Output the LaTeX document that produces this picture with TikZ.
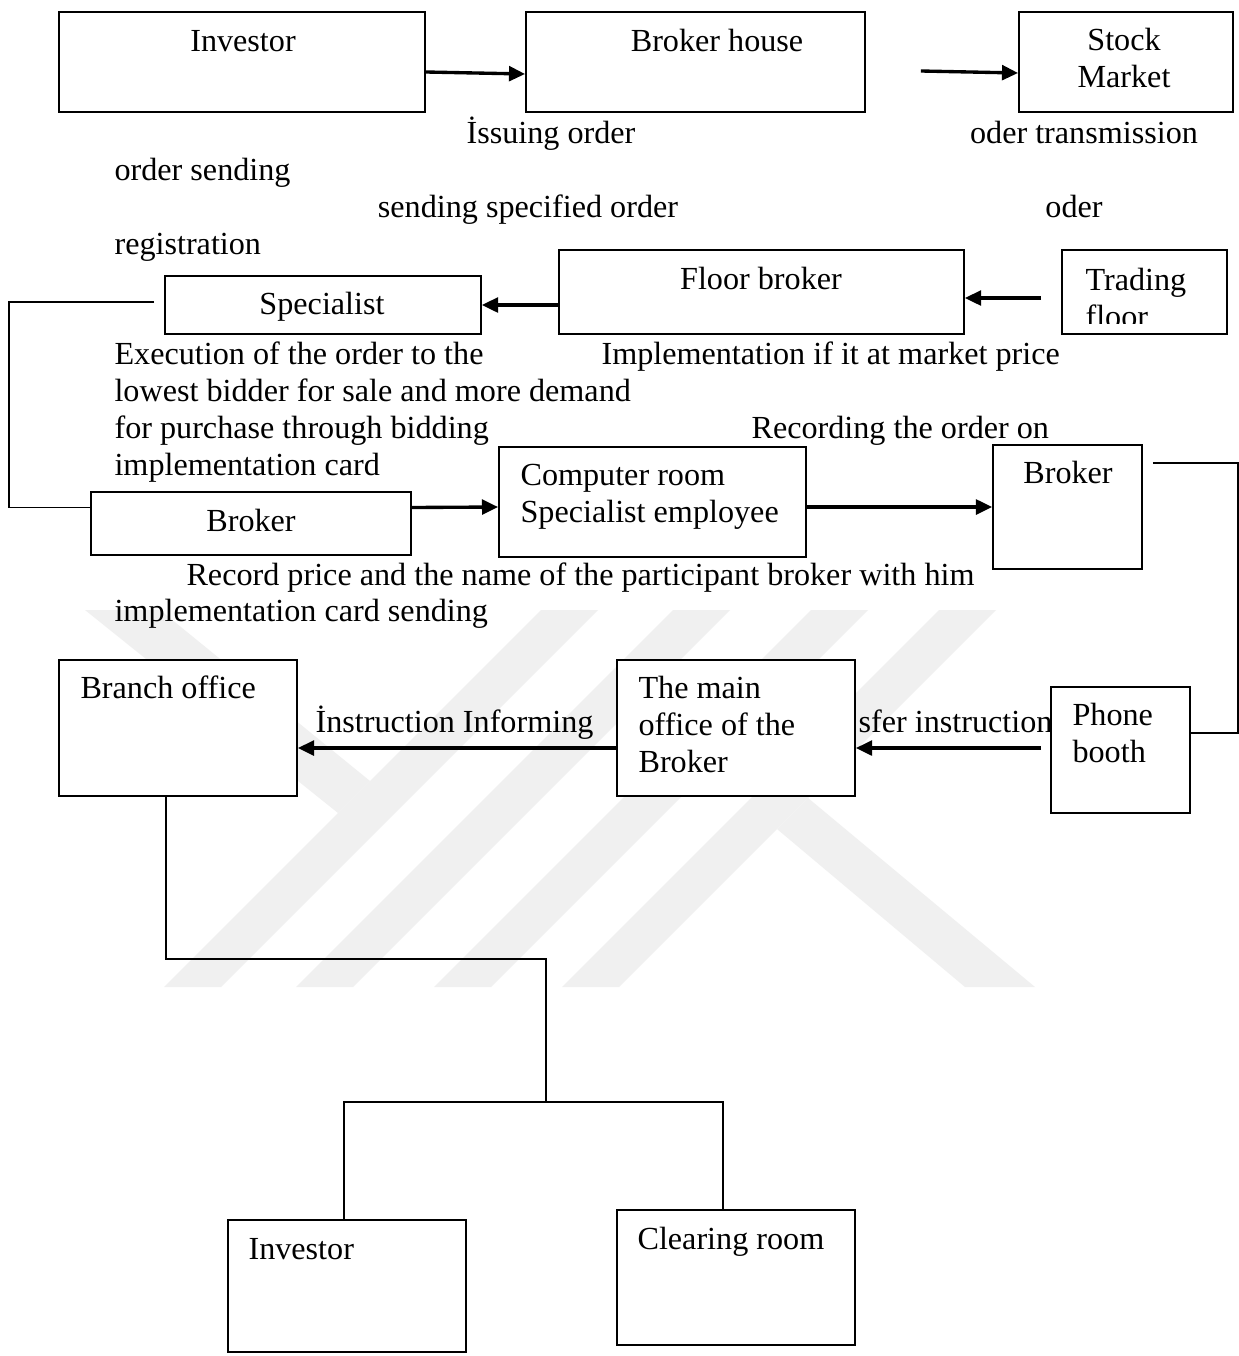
\documentclass[tikz,border=0pt]{standalone}
\usepackage{fontspec}
\setmainfont{Liberation Serif}
\usetikzlibrary{arrows.meta,calc,fit}
\begin{document}
\begin{tikzpicture}[x=0.373pt,y=-0.373pt,
  box/.style={draw, line width=0.7pt, inner sep=0pt, fill=white},
  lbl/.style={inner sep=0pt, text height=8.5pt, text depth=2.5pt, font=\fontsize{12}{13.8}\selectfont},
  lft/.style={lbl, anchor=west},
  arr/.style={line width=1.25pt, -{Triangle[length=6pt,width=5.5pt]}},
  wire/.style={line width=0.7pt},
  wm/.style={fill=black!6, draw=none}]
\useasboundingbox (0,0) rectangle (1239,1356);
\fill[white] (0,0) rectangle (1239,1356);

% watermark
\fill[wm] (164,987) -- (221,987) -- (598,610) -- (541,610) -- cycle;
\fill[wm] (296,987) -- (353,987) -- (730,610) -- (673,610) -- cycle;
\fill[wm] (434,987) -- (491,987) -- (868,610) -- (811,610) -- cycle;
\fill[wm] (562,987) -- (619,987) -- (996,610) -- (939,610) -- cycle;
\fill[wm] (85,610) -- (160,610) -- (370,781) -- (338,813) -- cycle;
\fill[wm] (777,829) -- (965,987) -- (1035,987) -- (808,798) -- cycle;

% row 1
\node[box, fit={(59,12) (425,112)}] (inv) {};
\node[box, fit={(526,12) (865,112)}] (bh) {};
\node[box, fit={(1019,12) (1233,112)}] (sm) {};
\node[lbl] (tinv) at (243,43) {Investor};
\node[lbl] (tbh) at (717,43) {Broker house};
\node[lbl] (tsm1) at (1124,42) {Stock};
\node[lbl] (tsm2) at (1124,79) {Market};
\draw[arr] ($(inv.east)+(0,10)$) -- ($(bh.west)+(0,12)$);
\draw[arr] ($(bh.east)+(55,9)$) -- ($(sm.west)+(0,11)$);

\node[lbl] (t1) at (551,135) {İssuing order};
\node[lbl] (t2) at (1084,135) {oder transmission};
\node[lft] (t3) at (114,172) {order sending};
\node[lbl] (t4) at (528,209) {sending specified order};
\node[lbl] (t5) at (1074,209) {oder};
\node[lft] (t6) at (114,246) {registration};

% row 2
\node[box, fit={(165,276) (481,334)}] (spec) {};
\node[box, fit={(559,250) (964,334)}] (fb) {};
\node[box, fit={(1062,250) (1227,334)}] (tf) {};
\node[lbl] (tspec) at (322,306) {Specialist};
\node[lbl] (tfb) at (761,281) {Floor broker};
\begin{scope}
\clip (tf.north west) rectangle ($(tf.south east)+(0,-11)$);
\node[lft] (ttf1) at (1085,282) {Trading};
\node[lft] (ttf2) at (1085,319) {floor};
\end{scope}
\draw[arr] (fb.west |- spec.east) -- (spec.east);
\draw[arr] ($(tf.west)+(-20,6)$) -- ($(fb.east)+(0,6)$);

\node[lft] (t7) at (114,356) {Execution of the order to the};
\node[lft] (t8) at (601,356) {Implementation if it at market price};
\node[lft] (t9) at (114,393) {lowest bidder for sale and more demand};
\node[lft] (t10) at (114,430) {for purchase through bidding};
\node[lft] (t11) at (751,430) {Recording the order on};
\node[lft] (t12) at (114,467) {implementation card};

% row 3
\node[box, fit={(91,492) (411,555)}] (brk1) {};
\node[box, fit={(499,447) (806,557)}] (comp) {};
\node[box, fit={(993,445) (1142,569)}] (brk2) {};
\node[lbl] (tbrk1) at (251,523) {Broker};
\node[lft] (tcomp1) at (520,477) {Computer room};
\node[lft] (tcomp2) at (520,514) {Specialist employee};
\node[lbl] (tbrk2) at (1068,475) {Broker};
\draw[wire] ($(spec.west)+(-10,-3)$) -- ++(-145,0) |- ($(brk1.west)+(0,-16)$);
\draw[arr] ($(brk1.east)+(0,-16)$) -- ($(comp.west)+(0,5)$);
\draw[arr] ($(comp.east)+(0,5)$) -- (brk2.west);

\node[lft] (t13) at (186,577) {Record price and the name of the participant broker with him};
\node[lft] (t14) at (114,613) {implementation card sending};

% row 4
\node[box, fit={(59,660) (297,796)}] (branch) {};
\node[box, fit={(617,660) (855,796)}] (mainoff) {};
\node[box, fit={(1051,687) (1190,813)}] (phone) {};
\node[lft] (tbranch) at (80,690) {Branch office};
\node[lft] (tmain1) at (638,690) {The main};
\node[lft] (tmain2) at (638,727) {office of the};
\node[lft] (tmain3) at (638,764) {Broker};
\node[lft] (tph1) at (1072,717) {Phone};
\node[lft] (tph2) at (1072,754) {booth};
\node[lft] (t15) at (315,724) {İnstruction Informing};
\node[lft] (t16) at (858,724) {sfer instruction};
\draw[wire] ($(brk2.east)+(10,-44)$) -- ++(85,0) |- ($(phone.east)+(0,-17)$);
\draw[arr] ($(mainoff.west)+(0,20)$) -- ($(branch.east)+(0,20)$);
\draw[arr] ($(phone.west)+(-9,-2)$) -- ($(mainoff.east)+(0,20)$);

% bottom tree
\node[box, fit={(228,1220) (466,1352)}] (inv2) {};
\node[box, fit={(617,1210) (855,1345)}] (clear) {};
\node[lft] (tinv2) at (248,1251) {Investor};
\node[lft] (tclear) at (637,1241) {Clearing room};
\coordinate (split) at (546,1102);
\draw[wire] ($(branch.south)+(-12,0)$) -- ++(0,162) -| (split);
\draw[wire] ($(inv2.north)+(-3,0)$) |- (split) -| ($(clear.north)+(-13,0)$);
\end{tikzpicture}
\end{document}
